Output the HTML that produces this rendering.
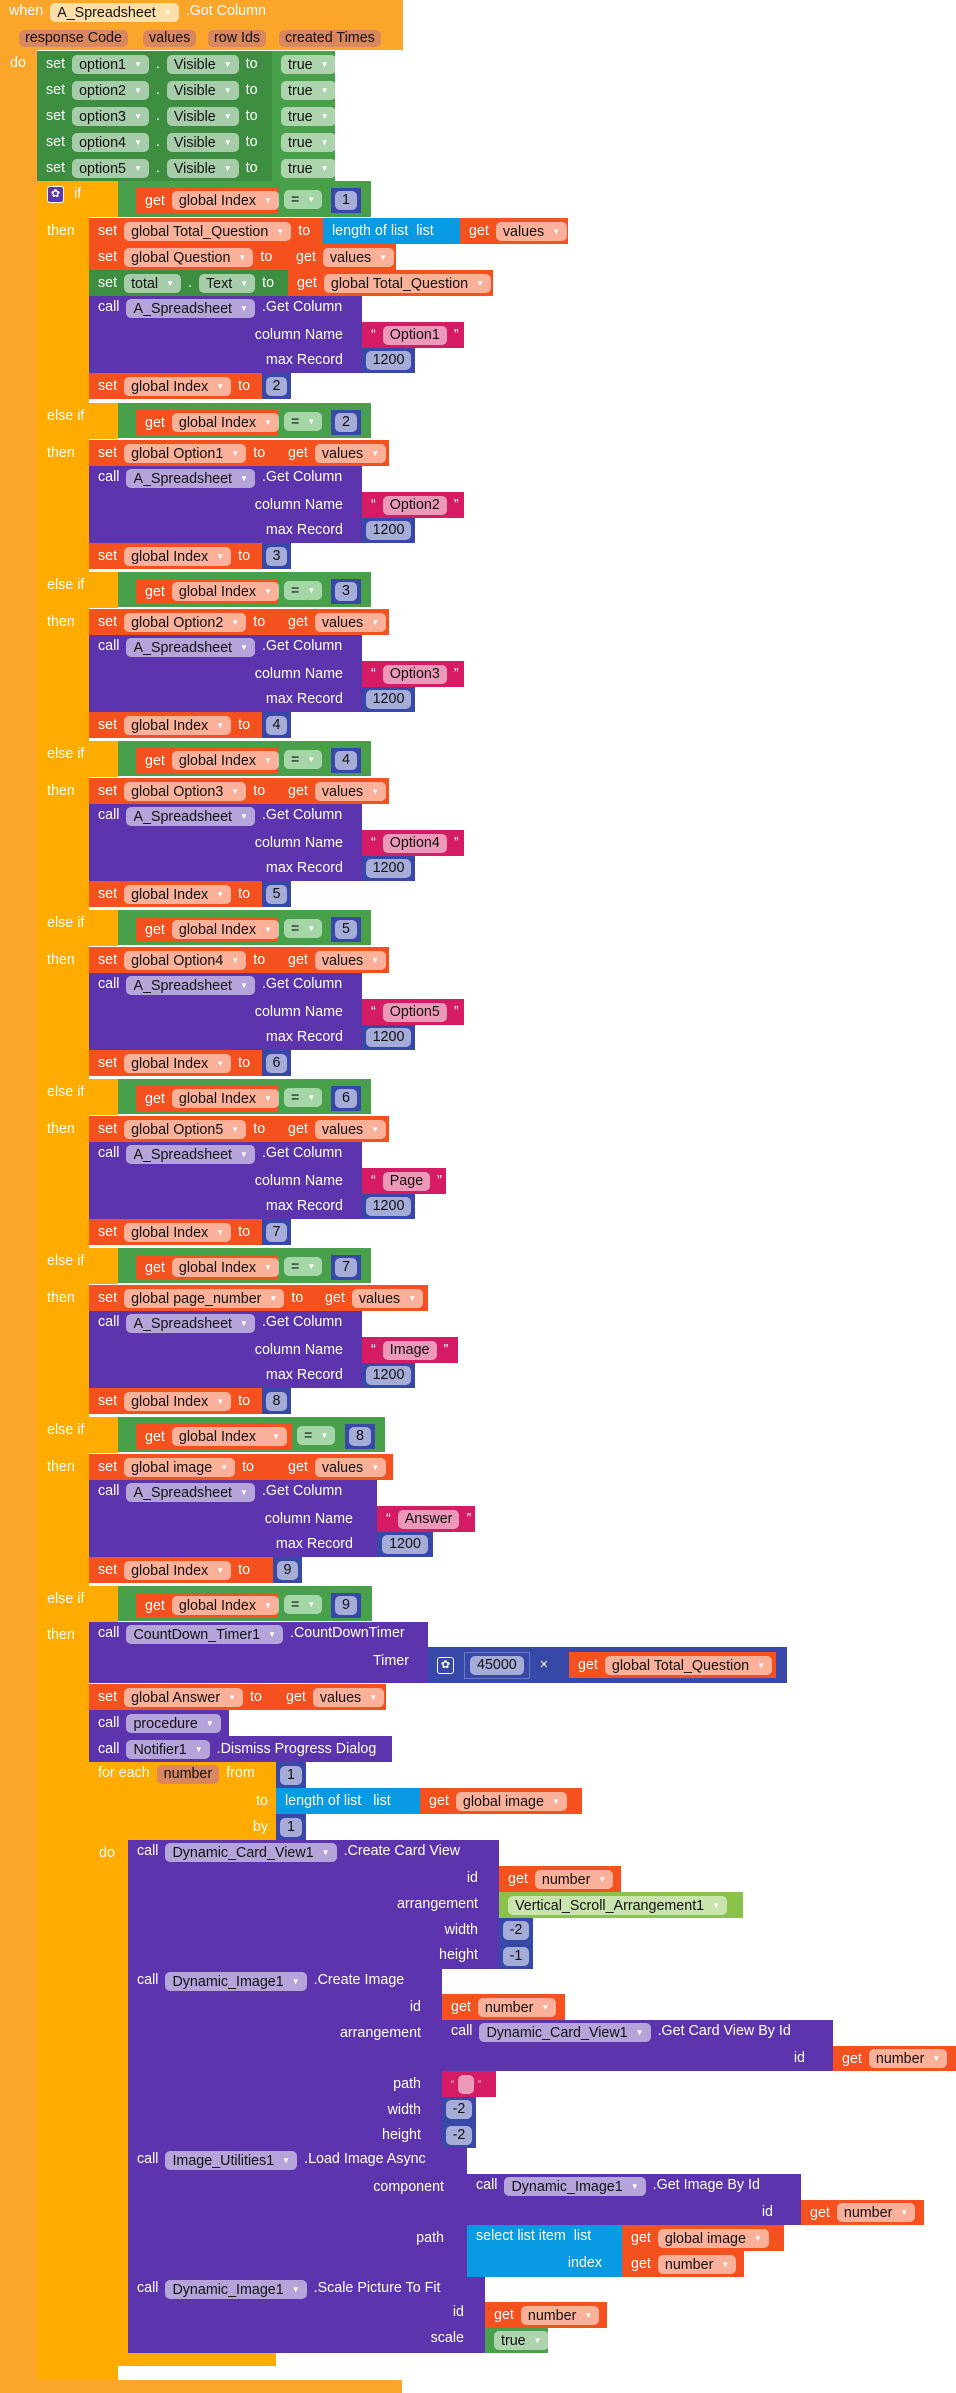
<!DOCTYPE html>
<html><head><meta charset="utf-8"><style>
body{margin:0;width:956px;height:2393px;background:#fff;position:relative;overflow:hidden;font-family:"Liberation Sans",Arial,sans-serif;font-size:14.3px}
.b{position:absolute;box-sizing:border-box;color:#fff;display:flex;align-items:center;gap:7px;padding-left:9px;white-space:nowrap}
.m{align-items:flex-start;padding-top:3px}
.c{justify-content:center;padding-left:0}
.p{background:rgba(255,255,255,.55);color:#111;border-radius:5px;padding:0 7px;height:19px;line-height:19px;display:inline-block}
.p i{font-style:normal;font-size:8px;color:#fff;margin-left:8px;vertical-align:2px}
.l{position:absolute;color:#fff;height:26px;line-height:26px;white-space:nowrap}
.ev{background:#FBA62B}.ct{background:#FFAB00}.gs{background:#3D8E41}.gc{background:#49A04B}
.rd{background:#F4511E}.pu{background:#5C35AE}.bn{background:#3848A8}.lb{background:#089BE3}
.pk{background:#D51B63}.lm{background:#8BC34A}
.gear{width:15px;height:15px;background:#5C35AE;border:1px solid #fff;border-radius:3px;color:#fff;font-size:11px;line-height:15px;text-align:center;display:inline-block}
.ep{background:#D9875F;color:#111;border-radius:5px;padding:0 6px;height:17px;line-height:17px;position:absolute;top:30px}
</style></head><body>

<!-- event -->
<div class="b ev" style="left:0;top:0;width:403px;height:50px;align-items:flex-start;padding-top:3px"><span>when</span><span class="p" style="background:#FFDFA8">A_Spreadsheet<i>▼</i></span><span>.Got Column</span></div>
<span class="ep" style="left:19px">response Code</span><span class="ep" style="left:143px">values</span><span class="ep" style="left:208px">row Ids</span><span class="ep" style="left:279px">created Times</span>
<div class="ev" style="position:absolute;left:0;top:50px;width:37px;height:2343px"></div>
<span class="l" style="left:10px;top:50px">do</span>
<div class="ev" style="position:absolute;left:0;top:2380px;width:402px;height:13px"></div>

<!-- set option rows -->
<div class="b gs" style="left:37px;top:51px;width:235px;height:26px"><span>set</span><span class="p">option1<i>▼</i></span>.<span class="p">Visible<i>▼</i></span><span>to</span></div><div class="b gc" style="left:272px;top:51px;width:63px;height:26px"><span class="p">true<i>▼</i></span></div>
<div class="b gs" style="left:37px;top:77px;width:235px;height:26px"><span>set</span><span class="p">option2<i>▼</i></span>.<span class="p">Visible<i>▼</i></span><span>to</span></div><div class="b gc" style="left:272px;top:77px;width:63px;height:26px"><span class="p">true<i>▼</i></span></div>
<div class="b gs" style="left:37px;top:103px;width:235px;height:26px"><span>set</span><span class="p">option3<i>▼</i></span>.<span class="p">Visible<i>▼</i></span><span>to</span></div><div class="b gc" style="left:272px;top:103px;width:63px;height:26px"><span class="p">true<i>▼</i></span></div>
<div class="b gs" style="left:37px;top:129px;width:235px;height:26px"><span>set</span><span class="p">option4<i>▼</i></span>.<span class="p">Visible<i>▼</i></span><span>to</span></div><div class="b gc" style="left:272px;top:129px;width:63px;height:26px"><span class="p">true<i>▼</i></span></div>
<div class="b gs" style="left:37px;top:155px;width:235px;height:26px"><span>set</span><span class="p">option5<i>▼</i></span>.<span class="p">Visible<i>▼</i></span><span>to</span></div><div class="b gc" style="left:272px;top:155px;width:63px;height:26px"><span class="p">true<i>▼</i></span></div>

<!-- if block bars -->
<div class="ct" style="position:absolute;left:37px;top:181px;width:52px;height:2199px"></div>
<div class="ct" style="position:absolute;left:37px;top:2366px;width:81px;height:14px"></div>
<span class="gear" style="position:absolute;left:47px;top:186px">✿</span>
<span class="l" style="left:74px;top:181px">if</span>

<!-- conditions -->
<div class="ct" style="position:absolute;left:89px;top:181px;width:29px;height:36px"></div>
<div class="gc" style="position:absolute;left:118px;top:181px;width:253px;height:36px"></div>
<div class="b rd" style="left:136px;top:188px;width:142px;height:25px"><span>get</span><span class="p">global Index<i>▼</i></span></div>
<span class="p" style="position:absolute;left:284px;top:190px;background:#A5D6A7">=<i>▼</i></span>
<div class="b bn c" style="left:331px;top:188px;width:30px;height:25px"><span class="p">1</span></div>
<span class="l" style="left:47px;top:218px">then</span>

<!-- branch 1 body -->
<div class="b rd" style="left:89px;top:218px;width:234px;height:26px"><span>set</span><span class="p">global Total_Question<i>▼</i></span><span>to</span></div>
<div class="b lb" style="left:323px;top:218px;width:137px;height:26px"><span>length of list&nbsp; list</span></div>
<div class="b rd" style="left:460px;top:218px;width:108px;height:26px"><span>get</span><span class="p">values<i>▼</i></span></div>
<div class="b rd" style="left:89px;top:244px;width:198px;height:26px"><span>set</span><span class="p">global Question<i>▼</i></span><span>to</span></div>
<div class="b rd" style="left:287px;top:244px;width:109px;height:26px"><span>get</span><span class="p">values<i>▼</i></span></div>
<div class="b gs" style="left:89px;top:270px;width:199px;height:26px"><span>set</span><span class="p">total<i>▼</i></span>.<span class="p">Text<i>▼</i></span><span>to</span></div>
<div class="b rd" style="left:288px;top:270px;width:205px;height:26px"><span>get</span><span class="p">global Total_Question<i>▼</i></span></div>
<div class="b pu m" style="left:89px;top:296px;width:273px;height:77px"><span>call</span><span class="p">A_Spreadsheet<i>▼</i></span><span>.Get Column</span><span class="l" style="right:19px;top:26px">column Name</span><span class="l" style="right:19px;top:51px">max Record</span></div>
<div class="b pk" style="left:362px;top:322px;width:102px;height:26px"><span>“</span><span class="p">Option1</span><span>”</span></div>
<div class="b bn c" style="left:362px;top:348px;width:53px;height:25px"><span class="p">1200</span></div>
<div class="b rd" style="left:89px;top:373px;width:173px;height:26px"><span>set</span><span class="p">global Index<i>▼</i></span><span>to</span></div>
<div class="b bn c" style="left:262px;top:373px;width:29px;height:26px"><span class="p">2</span></div>

<!-- branch 2 (cond 403) -->
<div class="ct" style="position:absolute;left:89px;top:403px;width:29px;height:36px"></div><div class="gc" style="position:absolute;left:118px;top:403px;width:253px;height:35px"></div>
<div class="b rd" style="left:136px;top:410px;width:142px;height:25px"><span>get</span><span class="p">global Index<i>▼</i></span></div><span class="p" style="position:absolute;left:284px;top:412px;background:#A5D6A7">=<i>▼</i></span><div class="b bn c" style="left:331px;top:410px;width:30px;height:25px"><span class="p">2</span></div>
<span class="l" style="left:47px;top:403px">else if</span><span class="l" style="left:47px;top:440px">then</span>
<div class="b rd" style="left:89px;top:440px;width:190px;height:26px"><span>set</span><span class="p">global Option1<i>▼</i></span><span>to</span></div><div class="b rd" style="left:279px;top:440px;width:110px;height:26px"><span>get</span><span class="p">values<i>▼</i></span></div>
<div class="b pu m" style="left:89px;top:466px;width:273px;height:77px"><span>call</span><span class="p">A_Spreadsheet<i>▼</i></span><span>.Get Column</span><span class="l" style="right:19px;top:26px">column Name</span><span class="l" style="right:19px;top:51px">max Record</span></div>
<div class="b pk" style="left:362px;top:492px;width:102px;height:26px"><span>“</span><span class="p">Option2</span><span>”</span></div><div class="b bn c" style="left:362px;top:518px;width:53px;height:25px"><span class="p">1200</span></div>
<div class="b rd" style="left:89px;top:543px;width:173px;height:26px"><span>set</span><span class="p">global Index<i>▼</i></span><span>to</span></div><div class="b bn c" style="left:262px;top:543px;width:29px;height:26px"><span class="p">3</span></div>

<!-- branch 3 (cond 572) -->
<div class="ct" style="position:absolute;left:89px;top:572px;width:29px;height:36px"></div><div class="gc" style="position:absolute;left:118px;top:572px;width:253px;height:35px"></div>
<div class="b rd" style="left:136px;top:579px;width:142px;height:25px"><span>get</span><span class="p">global Index<i>▼</i></span></div><span class="p" style="position:absolute;left:284px;top:581px;background:#A5D6A7">=<i>▼</i></span><div class="b bn c" style="left:331px;top:579px;width:30px;height:25px"><span class="p">3</span></div>
<span class="l" style="left:47px;top:572px">else if</span><span class="l" style="left:47px;top:609px">then</span>
<div class="b rd" style="left:89px;top:609px;width:190px;height:26px"><span>set</span><span class="p">global Option2<i>▼</i></span><span>to</span></div><div class="b rd" style="left:279px;top:609px;width:110px;height:26px"><span>get</span><span class="p">values<i>▼</i></span></div>
<div class="b pu m" style="left:89px;top:635px;width:273px;height:77px"><span>call</span><span class="p">A_Spreadsheet<i>▼</i></span><span>.Get Column</span><span class="l" style="right:19px;top:26px">column Name</span><span class="l" style="right:19px;top:51px">max Record</span></div>
<div class="b pk" style="left:362px;top:661px;width:102px;height:26px"><span>“</span><span class="p">Option3</span><span>”</span></div><div class="b bn c" style="left:362px;top:687px;width:53px;height:25px"><span class="p">1200</span></div>
<div class="b rd" style="left:89px;top:712px;width:173px;height:26px"><span>set</span><span class="p">global Index<i>▼</i></span><span>to</span></div><div class="b bn c" style="left:262px;top:712px;width:29px;height:26px"><span class="p">4</span></div>

<!-- branch 4 (cond 741) -->
<div class="ct" style="position:absolute;left:89px;top:741px;width:29px;height:36px"></div><div class="gc" style="position:absolute;left:118px;top:741px;width:253px;height:35px"></div>
<div class="b rd" style="left:136px;top:748px;width:142px;height:25px"><span>get</span><span class="p">global Index<i>▼</i></span></div><span class="p" style="position:absolute;left:284px;top:750px;background:#A5D6A7">=<i>▼</i></span><div class="b bn c" style="left:331px;top:748px;width:30px;height:25px"><span class="p">4</span></div>
<span class="l" style="left:47px;top:741px">else if</span><span class="l" style="left:47px;top:778px">then</span>
<div class="b rd" style="left:89px;top:778px;width:190px;height:26px"><span>set</span><span class="p">global Option3<i>▼</i></span><span>to</span></div><div class="b rd" style="left:279px;top:778px;width:110px;height:26px"><span>get</span><span class="p">values<i>▼</i></span></div>
<div class="b pu m" style="left:89px;top:804px;width:273px;height:77px"><span>call</span><span class="p">A_Spreadsheet<i>▼</i></span><span>.Get Column</span><span class="l" style="right:19px;top:26px">column Name</span><span class="l" style="right:19px;top:51px">max Record</span></div>
<div class="b pk" style="left:362px;top:830px;width:102px;height:26px"><span>“</span><span class="p">Option4</span><span>”</span></div><div class="b bn c" style="left:362px;top:856px;width:53px;height:25px"><span class="p">1200</span></div>
<div class="b rd" style="left:89px;top:881px;width:173px;height:26px"><span>set</span><span class="p">global Index<i>▼</i></span><span>to</span></div><div class="b bn c" style="left:262px;top:881px;width:29px;height:26px"><span class="p">5</span></div>

<!-- branch 5 (cond 910) -->
<div class="ct" style="position:absolute;left:89px;top:910px;width:29px;height:36px"></div><div class="gc" style="position:absolute;left:118px;top:910px;width:253px;height:35px"></div>
<div class="b rd" style="left:136px;top:917px;width:142px;height:25px"><span>get</span><span class="p">global Index<i>▼</i></span></div><span class="p" style="position:absolute;left:284px;top:919px;background:#A5D6A7">=<i>▼</i></span><div class="b bn c" style="left:331px;top:917px;width:30px;height:25px"><span class="p">5</span></div>
<span class="l" style="left:47px;top:910px">else if</span><span class="l" style="left:47px;top:947px">then</span>
<div class="b rd" style="left:89px;top:947px;width:190px;height:26px"><span>set</span><span class="p">global Option4<i>▼</i></span><span>to</span></div><div class="b rd" style="left:279px;top:947px;width:110px;height:26px"><span>get</span><span class="p">values<i>▼</i></span></div>
<div class="b pu m" style="left:89px;top:973px;width:273px;height:77px"><span>call</span><span class="p">A_Spreadsheet<i>▼</i></span><span>.Get Column</span><span class="l" style="right:19px;top:26px">column Name</span><span class="l" style="right:19px;top:51px">max Record</span></div>
<div class="b pk" style="left:362px;top:999px;width:102px;height:26px"><span>“</span><span class="p">Option5</span><span>”</span></div><div class="b bn c" style="left:362px;top:1025px;width:53px;height:25px"><span class="p">1200</span></div>
<div class="b rd" style="left:89px;top:1050px;width:173px;height:26px"><span>set</span><span class="p">global Index<i>▼</i></span><span>to</span></div><div class="b bn c" style="left:262px;top:1050px;width:29px;height:26px"><span class="p">6</span></div>

<!-- branch 6 (cond 1079) -->
<div class="ct" style="position:absolute;left:89px;top:1079px;width:29px;height:36px"></div><div class="gc" style="position:absolute;left:118px;top:1079px;width:253px;height:35px"></div>
<div class="b rd" style="left:136px;top:1086px;width:142px;height:25px"><span>get</span><span class="p">global Index<i>▼</i></span></div><span class="p" style="position:absolute;left:284px;top:1088px;background:#A5D6A7">=<i>▼</i></span><div class="b bn c" style="left:331px;top:1086px;width:30px;height:25px"><span class="p">6</span></div>
<span class="l" style="left:47px;top:1079px">else if</span><span class="l" style="left:47px;top:1116px">then</span>
<div class="b rd" style="left:89px;top:1116px;width:190px;height:26px"><span>set</span><span class="p">global Option5<i>▼</i></span><span>to</span></div><div class="b rd" style="left:279px;top:1116px;width:110px;height:26px"><span>get</span><span class="p">values<i>▼</i></span></div>
<div class="b pu m" style="left:89px;top:1142px;width:273px;height:77px"><span>call</span><span class="p">A_Spreadsheet<i>▼</i></span><span>.Get Column</span><span class="l" style="right:19px;top:26px">column Name</span><span class="l" style="right:19px;top:51px">max Record</span></div>
<div class="b pk" style="left:362px;top:1168px;width:84px;height:26px"><span>“</span><span class="p">Page</span><span>”</span></div><div class="b bn c" style="left:362px;top:1194px;width:53px;height:25px"><span class="p">1200</span></div>
<div class="b rd" style="left:89px;top:1219px;width:173px;height:26px"><span>set</span><span class="p">global Index<i>▼</i></span><span>to</span></div><div class="b bn c" style="left:262px;top:1219px;width:29px;height:26px"><span class="p">7</span></div>

<!-- branch 7 (cond 1248) -->
<div class="ct" style="position:absolute;left:89px;top:1248px;width:29px;height:36px"></div><div class="gc" style="position:absolute;left:118px;top:1248px;width:253px;height:35px"></div>
<div class="b rd" style="left:136px;top:1255px;width:142px;height:25px"><span>get</span><span class="p">global Index<i>▼</i></span></div><span class="p" style="position:absolute;left:284px;top:1257px;background:#A5D6A7">=<i>▼</i></span><div class="b bn c" style="left:331px;top:1255px;width:30px;height:25px"><span class="p">7</span></div>
<span class="l" style="left:47px;top:1248px">else if</span><span class="l" style="left:47px;top:1285px">then</span>
<div class="b rd" style="left:89px;top:1285px;width:227px;height:26px"><span>set</span><span class="p">global page_number<i>▼</i></span><span>to</span></div><div class="b rd" style="left:316px;top:1285px;width:112px;height:26px"><span>get</span><span class="p">values<i>▼</i></span></div>
<div class="b pu m" style="left:89px;top:1311px;width:273px;height:77px"><span>call</span><span class="p">A_Spreadsheet<i>▼</i></span><span>.Get Column</span><span class="l" style="right:19px;top:26px">column Name</span><span class="l" style="right:19px;top:51px">max Record</span></div>
<div class="b pk" style="left:362px;top:1337px;width:96px;height:26px"><span>“</span><span class="p">Image</span><span>”</span></div><div class="b bn c" style="left:362px;top:1363px;width:53px;height:25px"><span class="p">1200</span></div>
<div class="b rd" style="left:89px;top:1388px;width:173px;height:26px"><span>set</span><span class="p">global Index<i>▼</i></span><span>to</span></div><div class="b bn c" style="left:262px;top:1388px;width:29px;height:26px"><span class="p">8</span></div>

<!-- branch 8 (cond 1417) wider -->
<div class="ct" style="position:absolute;left:89px;top:1417px;width:29px;height:36px"></div><div class="gc" style="position:absolute;left:118px;top:1417px;width:267px;height:35px"></div>
<div class="b rd" style="left:136px;top:1424px;width:156px;height:25px"><span>get</span><span class="p">global Index&nbsp;&nbsp;<i>▼</i></span></div><span class="p" style="position:absolute;left:297px;top:1426px;background:#A5D6A7">=<i>▼</i></span><div class="b bn c" style="left:345px;top:1424px;width:30px;height:25px"><span class="p">8</span></div>
<span class="l" style="left:47px;top:1417px">else if</span><span class="l" style="left:47px;top:1454px">then</span>
<div class="b rd" style="left:89px;top:1454px;width:190px;height:26px"><span>set</span><span class="p">global image<i>▼</i></span><span>to</span></div><div class="b rd" style="left:279px;top:1454px;width:114px;height:26px"><span>get</span><span class="p">values<i>▼</i></span></div>
<div class="b pu m" style="left:89px;top:1480px;width:288px;height:77px"><span>call</span><span class="p">A_Spreadsheet<i>▼</i></span><span>.Get Column</span><span class="l" style="right:24px;top:26px">column Name</span><span class="l" style="right:24px;top:51px">max Record</span></div>
<div class="b pk" style="left:377px;top:1506px;width:98px;height:26px"><span>“</span><span class="p">Answer</span><span>”</span></div><div class="b bn c" style="left:377px;top:1532px;width:56px;height:25px"><span class="p">1200</span></div>
<div class="b rd" style="left:89px;top:1557px;width:184px;height:26px"><span>set</span><span class="p">global Index<i>▼</i></span><span>to</span></div><div class="b bn c" style="left:273px;top:1557px;width:29px;height:26px"><span class="p">9</span></div>

<!-- branch 9 (cond 1586) -->
<div class="ct" style="position:absolute;left:89px;top:1586px;width:29px;height:36px"></div><div class="gc" style="position:absolute;left:118px;top:1586px;width:254px;height:35px"></div>
<div class="b rd" style="left:136px;top:1593px;width:142px;height:25px"><span>get</span><span class="p">global Index<i>▼</i></span></div><span class="p" style="position:absolute;left:284px;top:1595px;background:#A5D6A7">=<i>▼</i></span><div class="b bn c" style="left:331px;top:1593px;width:30px;height:25px"><span class="p">9</span></div>
<span class="l" style="left:47px;top:1586px">else if</span><span class="l" style="left:47px;top:1622px">then</span>
<div class="b pu m" style="left:89px;top:1622px;width:339px;height:61px"><span>call</span><span class="p">CountDown_Timer1<i>▼</i></span><span>.CountDownTimer</span><span class="l" style="right:19px;top:26px">Timer</span></div>
<div class="b bn" style="left:428px;top:1647px;width:359px;height:36px;gap:10px"><span class="gear" style="background:#3848A8">✿</span><span style="border:1px solid #6a78c8;padding:3px 5px"><span class="p">45000</span></span><span>×</span></div>
<div class="b rd" style="left:569px;top:1652px;width:207px;height:26px"><span>get</span><span class="p">global Total_Question<i>▼</i></span></div>
<div class="b rd" style="left:89px;top:1684px;width:188px;height:26px"><span>set</span><span class="p">global Answer<i>▼</i></span><span>to</span></div><div class="b rd" style="left:277px;top:1684px;width:109px;height:26px"><span>get</span><span class="p">values<i>▼</i></span></div>
<div class="b pu" style="left:89px;top:1710px;width:140px;height:26px"><span>call</span><span class="p">procedure<i>▼</i></span></div>
<div class="b pu" style="left:89px;top:1736px;width:303px;height:26px"><span>call</span><span class="p">Notifier1<i>▼</i></span><span>.Dismiss Progress Dialog</span></div>

<!-- for each -->
<div class="b ct m" style="left:89px;top:1762px;width:187px;height:78px"><span>for each</span><span class="p" style="background:#D9875F">number</span><span>from</span><span class="l" style="right:8px;top:26px">to</span><span class="l" style="right:8px;top:52px">by</span></div>
<div class="ct" style="position:absolute;left:89px;top:1840px;width:39px;height:513px"></div>
<div class="ct" style="position:absolute;left:89px;top:2353px;width:187px;height:13px"></div>
<span class="l" style="left:99px;top:1840px">do</span>
<div class="b bn c" style="left:276px;top:1762px;width:30px;height:26px"><span class="p">1</span></div>
<div class="b lb" style="left:276px;top:1788px;width:144px;height:26px"><span>length of list&nbsp;&nbsp; list</span></div>
<div class="b rd" style="left:420px;top:1788px;width:162px;height:26px"><span>get</span><span class="p">global image<i>▼</i></span></div>
<div class="b bn c" style="left:276px;top:1814px;width:30px;height:26px"><span class="p">1</span></div>

<!-- Create Card View -->
<div class="b pu m" style="left:128px;top:1840px;width:371px;height:129px"><span>call</span><span class="p">Dynamic_Card_View1<i>▼</i></span><span>.Create Card View</span>
<span class="l" style="right:21px;top:25px">id</span><span class="l" style="right:21px;top:51px">arrangement</span><span class="l" style="right:21px;top:77px">width</span><span class="l" style="right:21px;top:102px">height</span></div>
<div class="b rd" style="left:499px;top:1866px;width:122px;height:26px"><span>get</span><span class="p">number<i>▼</i></span></div>
<div class="b lm" style="left:499px;top:1892px;width:244px;height:26px"><span class="p">Vertical_Scroll_Arrangement1<i>▼</i></span></div>
<div class="b bn c" style="left:499px;top:1918px;width:34px;height:25px"><span class="p">-2</span></div>
<div class="b bn c" style="left:499px;top:1943px;width:34px;height:26px"><span class="p">-1</span></div>

<!-- Create Image -->
<div class="b pu m" style="left:128px;top:1969px;width:314px;height:180px"><span>call</span><span class="p">Dynamic_Image1<i>▼</i></span><span>.Create Image</span>
<span class="l" style="right:21px;top:25px">id</span><span class="l" style="right:21px;top:51px">arrangement</span><span class="l" style="right:21px;top:102px">path</span><span class="l" style="right:21px;top:128px">width</span><span class="l" style="right:21px;top:153px">height</span></div>
<div class="b rd" style="left:442px;top:1994px;width:123px;height:26px"><span>get</span><span class="p">number<i>▼</i></span></div>
<div class="b pu m" style="left:442px;top:2020px;width:391px;height:51px"><span>call</span><span class="p">Dynamic_Card_View1<i>▼</i></span><span>.Get Card View By Id</span><span class="l" style="right:28px;top:25px">id</span></div>
<div class="b rd" style="left:833px;top:2046px;width:123px;height:25px"><span>get</span><span class="p">number<i>▼</i></span></div>
<div class="b pk" style="left:442px;top:2071px;width:54px;height:26px;gap:4px"><span style="font-size:9px">“</span><span class="p" style="padding:0 6px">&nbsp;</span><span style="font-size:9px">”</span></div>
<div class="b bn c" style="left:442px;top:2097px;width:34px;height:25px"><span class="p">-2</span></div>
<div class="b bn c" style="left:442px;top:2122px;width:34px;height:26px"><span class="p">-2</span></div>

<!-- Load Image Async -->
<div class="b pu m" style="left:128px;top:2148px;width:339px;height:129px"><span>call</span><span class="p">Image_Utilities1<i>▼</i></span><span>.Load Image Async</span>
<span class="l" style="right:23px;top:26px">component</span><span class="l" style="right:23px;top:77px">path</span></div>
<div class="b pu m" style="left:467px;top:2174px;width:334px;height:51px"><span>call</span><span class="p">Dynamic_Image1<i>▼</i></span><span>.Get Image By Id</span><span class="l" style="right:28px;top:25px">id</span></div>
<div class="b rd" style="left:801px;top:2200px;width:123px;height:25px"><span>get</span><span class="p">number<i>▼</i></span></div>
<div class="b lb m" style="left:467px;top:2225px;width:155px;height:52px"><span>select list item&nbsp; list</span><span class="l" style="right:20px;top:25px">index</span></div>
<div class="b rd" style="left:622px;top:2225px;width:162px;height:26px"><span>get</span><span class="p">global image<i>▼</i></span></div>
<div class="b rd" style="left:622px;top:2251px;width:122px;height:26px"><span>get</span><span class="p">number<i>▼</i></span></div>

<!-- Scale -->
<div class="b pu m" style="left:128px;top:2277px;width:357px;height:76px"><span>call</span><span class="p">Dynamic_Image1<i>▼</i></span><span>.Scale Picture To Fit</span>
<span class="l" style="right:21px;top:22px">id</span><span class="l" style="right:21px;top:48px">scale</span></div>
<div class="b rd" style="left:485px;top:2302px;width:122px;height:26px"><span>get</span><span class="p">number<i>▼</i></span></div>
<div class="b gc" style="left:485px;top:2328px;width:63px;height:25px"><span class="p">true<i>▼</i></span></div>

</body></html>
